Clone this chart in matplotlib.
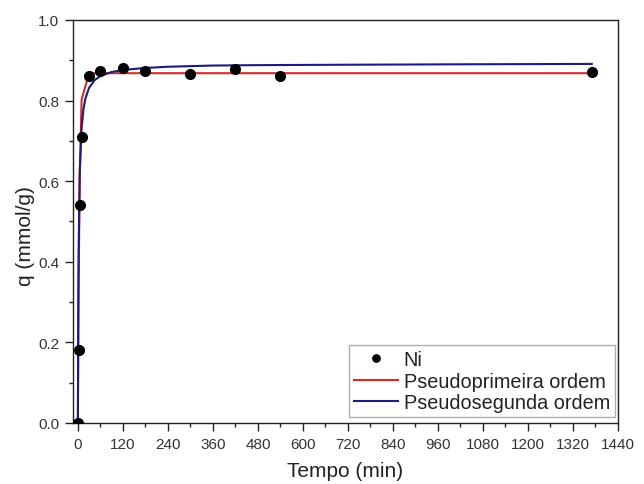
import matplotlib
matplotlib.use("Agg")
import matplotlib.pyplot as plt
from matplotlib.ticker import MultipleLocator

plt.rcParams['font.family'] = ['Liberation Sans', 'DejaVu Sans']

# Experimental data (Ni)
t_ni = [0, 2, 5, 10, 30, 60, 120, 180, 300, 420, 540, 1370]
q_ni = [0.0, 0.18, 0.54, 0.71, 0.862, 0.873, 0.880, 0.873, 0.865, 0.879, 0.860, 0.870]

# Pseudo-first-order fit curve
t_pfo = [0, 2, 5, 10, 30, 60, 120, 180, 300, 420, 540, 1370]
q_pfo = [0.0, 0.342, 0.619, 0.803, 0.868, 0.868, 0.868, 0.868, 0.868, 0.868, 0.868, 0.868]

# Pseudo-second-order fit curve
t_pso = [0, 1, 2, 5, 10, 15, 20, 30, 45, 60, 90, 120, 180, 240, 360, 480, 720, 1000, 1370]
q_pso = [0.0, 0.281, 0.427, 0.622, 0.733, 0.779, 0.805, 0.832, 0.851, 0.861, 0.871,
         0.876, 0.881, 0.884, 0.887, 0.888, 0.889, 0.890, 0.891]

x_ticks = list(range(0, 1441, 120))
y_ticks = [0.0, 0.2, 0.4, 0.6, 0.8, 1.0]

fig = plt.figure(figsize=(6.44, 4.85), dpi=100)
ax = fig.add_axes([73/644, 1 - 424/485, (618-73)/644, (424-21)/485])

ax.plot(t_pfo, q_pfo, color='#d42a2a', lw=1.5, label='Pseudoprimeira ordem', zorder=2)
ax.plot(t_pso, q_pso, color='#1c1c7a', lw=1.5, label='Pseudosegunda ordem', zorder=2)
ax.plot(t_ni, q_ni, 'o', color='black', ms=7, label='Ni', zorder=3)

ax.set_xlim(-13, 1440)
ax.set_ylim(0, 1.0)
ax.set_xticks(x_ticks)
ax.set_yticks(y_ticks)
ax.set_yticklabels([f"{v:.1f}" for v in y_ticks])
ax.xaxis.set_minor_locator(MultipleLocator(60))
ax.yaxis.set_minor_locator(MultipleLocator(0.1))
ax.tick_params(which='major', direction='out', length=6, width=1, labelsize=11,
               pad=4, top=False, right=False, colors='#222222', labelcolor='#333333')
ax.tick_params(which='minor', direction='out', length=3, width=1, top=False, right=False,
               colors='#222222')
for s in ax.spines.values():
    s.set_linewidth(1.0)
    s.set_color('#222222')

ax.set_xlabel('Tempo (min)', fontsize=15, labelpad=7, color='#222222')
ax.set_ylabel('q (mmol/g)', fontsize=15, labelpad=2, color='#222222')
ax.yaxis.label.set_y(0.466)

handles, labels = ax.get_legend_handles_labels()
order = [2, 0, 1]
leg = ax.legend([handles[i] for i in order], [labels[i] for i in order],
                loc='lower right', fontsize=14.3, frameon=True, fancybox=False,
                markerscale=0.75,
                handlelength=2.2, handletextpad=0.3, borderpad=0.25, labelspacing=0.12,
                borderaxespad=0, bbox_to_anchor=(615/644, 1 - 418/485),
                bbox_transform=fig.transFigure)
leg.get_frame().set_edgecolor('#999999')
leg.get_frame().set_linewidth(1.0)
for txt in leg.get_texts():
    txt.set_color('#222222')

fig.savefig('out.png', dpi=100)
